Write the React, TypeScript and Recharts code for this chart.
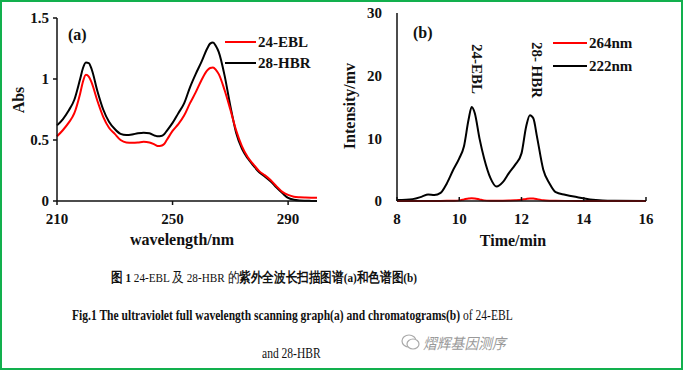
import React from "react";
import { LineChart, Line, XAxis, YAxis } from "recharts";

// (a) UV scan
const wavelength = [210, 212, 214, 216, 218, 219, 220, 221, 222, 224, 226, 228, 230, 232, 234, 236, 238, 240, 242, 244, 245, 246, 247, 248, 250, 252, 254, 256, 258, 260, 262, 263, 264, 265, 266, 268, 270, 272, 274, 276, 278, 280, 282, 284, 286, 288, 290, 292, 294, 296, 298, 300];
const absHbr = [0.62, 0.67, 0.74, 0.83, 1.0, 1.09, 1.135, 1.13, 1.08, 0.9, 0.75, 0.65, 0.59, 0.55, 0.54, 0.545, 0.555, 0.56, 0.555, 0.535, 0.53, 0.532, 0.545, 0.575, 0.64, 0.72, 0.8, 0.93, 1.04, 1.14, 1.25, 1.29, 1.3, 1.27, 1.22, 1.03, 0.78, 0.56, 0.43, 0.35, 0.29, 0.235, 0.2, 0.16, 0.11, 0.065, 0.025, 0.01, 0.004, 0.002, 0.001, 0];
const absEbl = [0.53, 0.58, 0.64, 0.72, 0.88, 0.98, 1.035, 1.02, 0.97, 0.82, 0.69, 0.6, 0.55, 0.5, 0.48, 0.478, 0.48, 0.485, 0.48, 0.46, 0.45, 0.452, 0.465, 0.5, 0.575, 0.63, 0.7, 0.8, 0.89, 0.99, 1.07, 1.09, 1.095, 1.075, 1.04, 0.91, 0.75, 0.58, 0.45, 0.36, 0.3, 0.245, 0.21, 0.17, 0.12, 0.075, 0.05, 0.035, 0.03, 0.028, 0.027, 0.027];
const uvXTicks = [210, 250, 290];
const uvYTicks = [0, 0.5, 1, 1.5];

// (b) chromatogram
const timeMin = [8, 8.5, 8.8, 9.0, 9.2, 9.4, 9.6, 9.8, 10.0, 10.15, 10.3, 10.4, 10.5, 10.65, 10.8, 11.0, 11.2, 11.4, 11.6, 11.8, 12.0, 12.15, 12.27, 12.38, 12.5, 12.7, 12.9, 13.1, 13.4, 13.8, 14.2, 14.6, 15.0, 16];
const int222 = [0.15, 0.3, 0.7, 1.05, 0.95, 1.3, 2.8, 4.9, 6.8, 8.7, 13.0, 15.0, 14.0, 10.0, 6.8, 3.7, 2.3, 3.0, 4.5, 5.8, 7.6, 11.9, 13.7, 13.2, 10.2, 5.0, 2.8, 1.4, 1.0, 0.6, 0.25, 0.08, 0.03, 0];
const int264 = [0.02, 0.02, 0.02, 0.02, 0.02, 0.02, 0.03, 0.05, 0.1, 0.25, 0.4, 0.45, 0.4, 0.25, 0.1, 0.05, 0.04, 0.05, 0.08, 0.12, 0.2, 0.33, 0.4, 0.38, 0.3, 0.12, 0.05, 0.03, 0.02, 0.01, 0, 0, 0, 0];
const tXTicks = [8, 10, 12, 14, 16];
const tYTicks = [0, 10, 20, 30];

const uvData = wavelength.map((w, i) => ({ w, ebl: absEbl[i], hbr: absHbr[i] }));
const lcData = timeMin.map((t, i) => ({ t, s264: int264[i], s222: int222[i] }));

const serif = "'Times New Roman', 'Liberation Serif', 'DejaVu Serif', serif";
const tickStyle = { fontSize: 15, fontWeight: "bold", fill: "#111", fontFamily: serif };
const axisStroke = { stroke: "#111", strokeWidth: 1.5 };

const abs = (style: React.CSSProperties): React.CSSProperties => ({
  position: "absolute",
  fontFamily: serif,
  color: "#111",
  whiteSpace: "nowrap",
  ...style,
});

function LegendItem({ x, y, w, color, label }: { x: number; y: number; w: number; color: string; label: string }) {
  return (
    <>
      <div style={abs({ left: x, top: y - 1, width: w, height: 2, background: color })} />
      <div style={abs({ left: x + w + 2, top: y - 9, fontSize: 15, fontWeight: "bold", lineHeight: "18px" })}>{label}</div>
    </>
  );
}

export default function App() {
  return (
    <div
      style={{
        position: "absolute",
        left: 0,
        top: 0,
        width: 683,
        height: 370,
        boxSizing: "border-box",
        border: "2px solid #12b04e",
        background: "#fff",
        overflow: "hidden",
        fontFamily: serif,
      }}
    >
      {/* chart (a) */}
      <div style={{ position: "absolute", left: -2, top: -2 }}>
        <LineChart width={340} height={260} data={uvData} margin={{ top: 18, right: 23, bottom: 0, left: 0 }}>
          <XAxis
            dataKey="w"
            type="number"
            domain={[210, 300]}
            ticks={uvXTicks}
            tick={tickStyle}
            tickSize={4}
            tickMargin={8}
            height={59}
            axisLine={axisStroke}
            tickLine={axisStroke}
          />
          <XAxis xAxisId="top" orientation="top" type="number" domain={[210, 300]} height={0} tick={false} tickLine={false} axisLine={axisStroke} />
          <YAxis
            type="number"
            domain={[0, 1.5]}
            ticks={uvYTicks}
            tick={tickStyle}
            tickSize={4}
            tickMargin={4}
            width={57}
            axisLine={axisStroke}
            tickLine={axisStroke}
          />
          <YAxis yAxisId="right" orientation="right" type="number" domain={[0, 1.5]} width={0} tick={false} tickLine={false} axisLine={axisStroke} />
          <Line type="monotone" dataKey="hbr" stroke="#000" strokeWidth={2} dot={false} isAnimationActive={false} />
          <Line type="monotone" dataKey="ebl" stroke="#ff0000" strokeWidth={2} dot={false} isAnimationActive={false} />
        </LineChart>
      </div>

      {/* chart (b) */}
      <div style={{ position: "absolute", left: 338, top: -2 }}>
        <LineChart width={343} height={260} data={lcData} margin={{ top: 13, right: 37, bottom: 0, left: 0 }}>
          <XAxis
            dataKey="t"
            type="number"
            domain={[8, 16]}
            ticks={tXTicks}
            tick={tickStyle}
            tickSize={-4}
            tickMargin={16}
            height={59}
            axisLine={axisStroke}
            tickLine={axisStroke}
          />
          <XAxis xAxisId="top" orientation="top" type="number" domain={[8, 16]} height={0} tick={false} tickLine={false} axisLine={axisStroke} />
          <YAxis
            type="number"
            domain={[0, 30]}
            ticks={tYTicks}
            tick={tickStyle}
            tickSize={-4}
            tickMargin={19}
            width={57}
            axisLine={axisStroke}
            tickLine={false}
          />
          <YAxis yAxisId="right" orientation="right" type="number" domain={[0, 30]} width={0} tick={false} tickLine={false} axisLine={axisStroke} />
          <Line type="monotone" dataKey="s222" stroke="#000" strokeWidth={2} dot={false} isAnimationActive={false} />
          <Line type="monotone" dataKey="s264" stroke="#ff0000" strokeWidth={2} dot={false} isAnimationActive={false} />
        </LineChart>
      </div>

      {/* panel labels, legends and axis titles (page coords minus 2px border) */}
      <div style={abs({ left: 66, top: 24, fontSize: 16, fontWeight: "bold" })}>(a)</div>
      <div style={abs({ left: 411, top: 22, fontSize: 16, fontWeight: "bold" })}>(b)</div>

      <LegendItem x={223} y={40} w={31} color="#ff0000" label="24-EBL" />
      <LegendItem x={223} y={61} w={31} color="#000" label="28-HBR" />
      <LegendItem x={551} y={41} w={34} color="#ff0000" label="264nm" />
      <LegendItem x={551} y={64} w={34} color="#000" label="222nm" />

      <div style={abs({ left: 475 - 40, top: 67 - 9, width: 80, textAlign: "center", fontSize: 15, fontWeight: "bold", lineHeight: "18px", transform: "rotate(90deg)" })}>24-EBL</div>
      <div style={abs({ left: 535 - 40, top: 68 - 9, width: 80, textAlign: "center", fontSize: 15, fontWeight: "bold", lineHeight: "18px", transform: "rotate(90deg)" })}>28- HBR</div>

      <div style={abs({ left: 180 - 80, top: 229, width: 160, textAlign: "center", fontSize: 16, fontWeight: "bold" })}>wavelength/nm</div>
      <div style={abs({ left: 511 - 80, top: 230, width: 160, textAlign: "center", fontSize: 16, fontWeight: "bold" })}>Time/min</div>
      <div style={abs({ left: 17 - 50, top: 98 - 10, width: 100, textAlign: "center", fontSize: 16, fontWeight: "bold", lineHeight: "20px", transform: "rotate(-90deg)" })}>Abs</div>
      <div style={abs({ left: 348 - 60, top: 104 - 10, width: 120, textAlign: "center", fontSize: 16, fontWeight: "bold", lineHeight: "20px", transform: "rotate(-90deg)" })}>Intensity/mv</div>

      {/* captions (source text is horizontally condensed) */}
      <div style={abs({ left: 109, top: 267, fontSize: 13.5, transform: "scaleX(0.83)", transformOrigin: "0 50%" })}>
        <b>图 1</b> 24-EBL 及 28-HBR 的<b>紫外全波长扫描图谱(a)和色谱图(b)</b>
      </div>
      <div style={abs({ left: 70, top: 305, fontSize: 15, transform: "scaleX(0.77)", transformOrigin: "0 50%" })}>
        <b>Fig.1 The ultraviolet full wavelength scanning graph(a) and chromatograms(b)</b> of 24-EBL
      </div>
      <div style={abs({ left: 260, top: 343, fontSize: 15, transform: "scaleX(0.77)", transformOrigin: "0 50%" })}>and 28-HBR</div>

      {/* watermark */}
      <svg style={{ position: "absolute", left: 399, top: 331 }} width={20} height={18}>
        <ellipse cx={8} cy={8} rx={7} ry={6} fill="none" stroke="#aaa" strokeWidth={1.2} />
        <ellipse cx={12} cy={11} rx={6} ry={5} fill="#fff" stroke="#aaa" strokeWidth={1.2} />
      </svg>
      <div style={abs({ left: 421, top: 330, fontSize: 15, color: "#999", fontFamily: "'Noto Sans CJK SC', sans-serif", fontStyle: "italic", transform: "scaleX(0.92)", transformOrigin: "0 50%" })}>熠辉基因测序</div>
    </div>
  );
}
